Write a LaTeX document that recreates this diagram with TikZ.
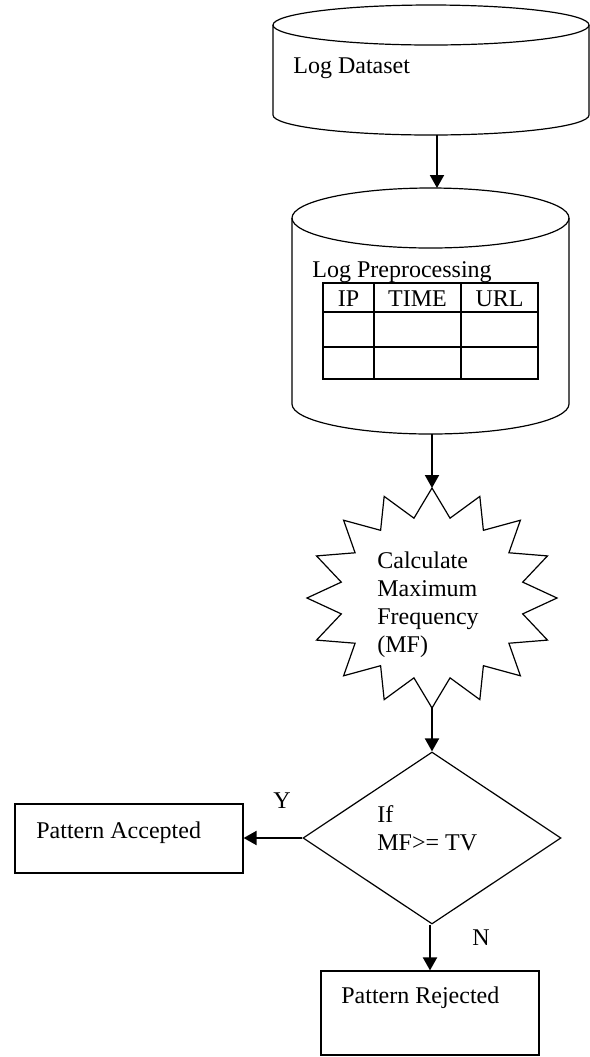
\documentclass[tikz,border=0pt]{standalone}
\usepackage{fontspec}
\setmainfont{Liberation Serif}
\usetikzlibrary{shapes.geometric,arrows.meta}
\begin{document}
\begin{tikzpicture}[x=0.5pt,y=0.5pt,
  shp/.style={draw=black, line width=0.6pt},
  arr/.style={draw=black, line width=1pt, -{Triangle[length=6.5pt,width=7pt]}},
  txt/.style={inner sep=0pt, font=\fontsize{12pt}{14pt}\selectfont},
  ghost/.style={inner sep=0pt, outer sep=0pt, draw=none},
  ]
\useasboundingbox (0,0) rectangle (590,-1057);
% ---- cylinder 1: Log Dataset
\node[ghost, minimum width=158pt, minimum height=65pt] (ds) at (431,-70) {};
\draw[shp] (431,-25) ellipse [x radius=79pt, y radius=10pt];
\draw[shp] (273,-25) -- (273,-115) arc[start angle=180, end angle=360, x radius=79pt, y radius=10pt] -- (589,-25);
\node[txt, anchor=base west] (dst) at (293,-73) {Log Dataset};
% ---- cylinder 2: Log Preprocessing
\node[ghost, minimum width=138.5pt, minimum height=123pt] (lp) at (430.5,-311) {};
\draw[shp] (430.5,-218) ellipse [x radius=69.25pt, y radius=15pt];
\draw[shp] (292,-218) -- (292,-404) arc[start angle=180, end angle=360, x radius=69.25pt, y radius=15pt] -- (569,-218);
\node[txt, anchor=base west] (lpt) at (312,-277) {Log Preprocessing};
% table
\draw[shp] (323,-283) rectangle (538,-379);
\draw[shp] (323,-312) -- (538,-312);
\draw[shp] (323,-347) -- (538,-347);
\draw[shp] (374,-283) -- (374,-379);
\draw[shp] (461,-283) -- (461,-379);
\node[txt, anchor=base] (hip) at (348.5,-306) {IP};
\node[txt, anchor=base] (htime) at (417.5,-306) {TIME};
\node[txt, anchor=base] (hurl) at (499.5,-306) {URL};
% ---- star
\node[ghost, minimum width=125pt, minimum height=110pt] (st) at (432,-598) {};
\begin{scope}[shift={(432,-598)}]
\draw[shp, line join=miter] (90:125 and 110)
  \foreach \k in {0,...,14} { -- ({90+(2*\k+1)*11.25}:92.5 and 81.4) -- ({90+(2*\k+2)*11.25}:125 and 110) }
  -- ({90+31*11.25}:92.5 and 81.4) -- cycle;
\end{scope}
\node[txt, anchor=north west, align=left] (stt) at (377,-551.6) {Calculate\\Maximum\\Frequency\\(MF)};
% ---- diamond
\node[shp, diamond, minimum width=129pt, minimum height=86pt, inner sep=0pt] (dia) at (432,-838) {};
\node[txt, anchor=north west, align=left] (diat) at (377,-805.6) {If\\MF>= TV};
% ---- result boxes
\node[shp, minimum width=114pt, minimum height=34.5pt, inner sep=0pt] (acc) at (129,-838.5) {};
\node[txt, anchor=base west] (acct) at (36,-838) {Pattern Accepted};
\node[shp, minimum width=109pt, minimum height=42pt, inner sep=0pt] (rej) at (430,-1013) {};
\node[txt, anchor=base west] (rejt) at (341,-1003) {Pattern Rejected};
% labels
\node[txt, anchor=base west] (ly) at (273,-808) {Y};
\node[txt, anchor=base west] (ln) at (472,-945) {N};
% ---- connectors
\coordinate (a1) at ([xshift=3pt]ds.south);
\draw[arr] (a1) -- (a1 |- lp.north);
\draw[arr] (st.north |- lp.south) -- (st.north);
\draw[arr] (st.south) -- (dia.north);
\draw[arr] (dia.west) -- (dia.west -| acc.east);
\coordinate (a5) at ([xshift=-1pt]dia.south);
\draw[arr] (a5) -- (a5 |- rej.north);
\end{tikzpicture}
\end{document}
